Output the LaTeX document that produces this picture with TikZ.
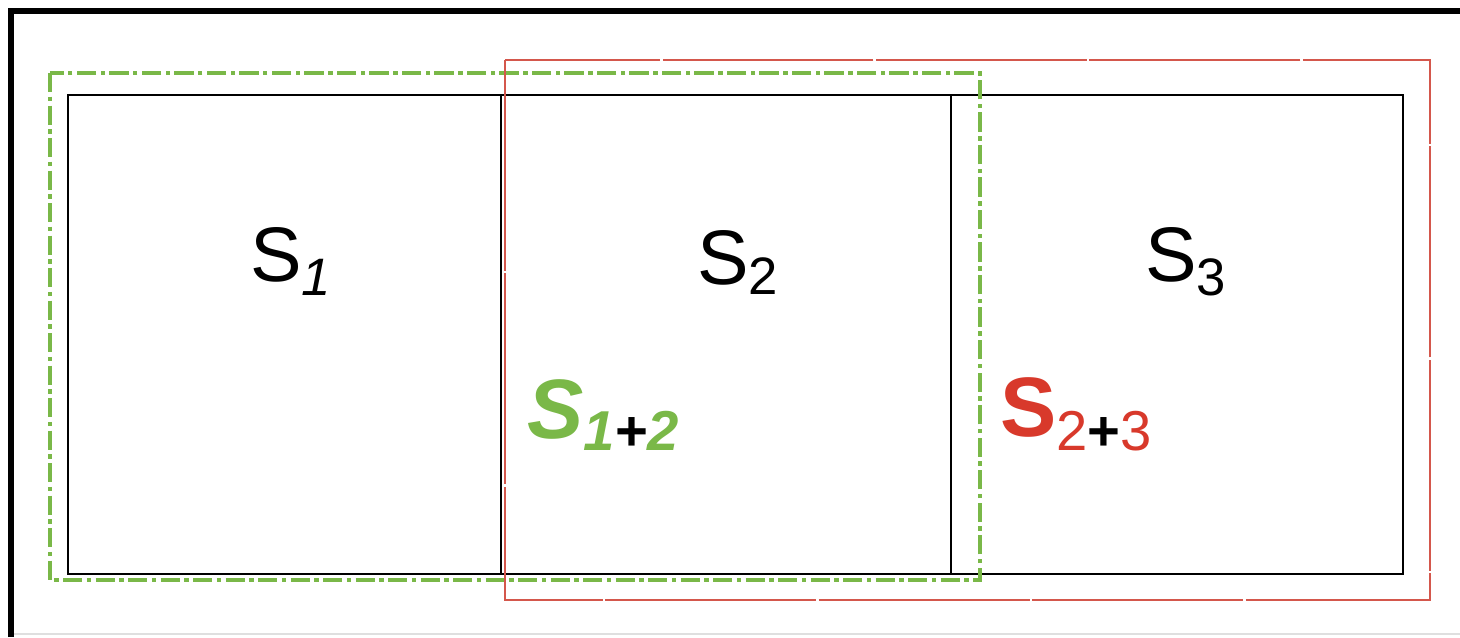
\documentclass[tikz,border=0pt]{standalone}
\usepackage{fontspec}
\setmainfont{Liberation Sans}
\usetikzlibrary{positioning}
\definecolor{frame}{HTML}{000000}
\definecolor{green}{HTML}{7AB848}
\definecolor{red}{HTML}{D8392B}
\definecolor{redline}{HTML}{D4574C}
\begin{document}
\begin{tikzpicture}[x=0.02cm,y=-0.02cm,
  every node/.style={inner sep=0pt,anchor=base west},
  cell/.style={line width=1.2pt,draw=black},
  lbl/.style={font=\fontsize{44}{50}\selectfont},
  grp/.style={font=\fontsize{48}{54}\selectfont\bfseries}]
\useasboundingbox (0,0) rectangle (1460,637);
\fill[white] (0,0) rectangle (1460,637);
\draw[frame,line width=3pt] (11,637) -- (11,11) -- (1460,11);
\draw[gray!25,line width=0.6pt] (14,634) -- (1460,634);
% the three cells
\draw[cell] (68,95) rectangle (501,574);
\draw[cell] (501,95) rectangle (951,574);
\draw[cell] (951,95) rectangle (1403,574);
% merged groups
\draw[green,line width=2.2pt,dash pattern=on 11pt off 2.5pt on 2.5pt off 2.5pt] (50,73) rectangle (980,580);
\draw[redline,line width=1.1pt,dash pattern=on 120pt off 1.5pt] (505,60) rectangle (1430,600);
% labels
\node[lbl] (s1) at (250,281) {S\raisebox{-8pt}{\fontsize{30}{30}\selectfont\itshape 1}};
\node[lbl] (s2) at (697,284) {S\raisebox{-6pt}{\fontsize{30}{30}\selectfont 2}};
\node[lbl] (s3) at (1145,281) {S\raisebox{-8pt}{\fontsize{30}{30}\selectfont 3}};
\node[grp,text=green] (s12) at (527,438) {\itshape S\raisebox{-7pt}{\fontsize{32}{32}\selectfont 1\textcolor{black}{+}2}};
\node[grp,text=red] (s23) at (1000,436) {S\raisebox{-8pt}{\fontsize{32}{32}\selectfont\mdseries 2\textcolor{black}{\bfseries +}3}};
\end{tikzpicture}
\end{document}
